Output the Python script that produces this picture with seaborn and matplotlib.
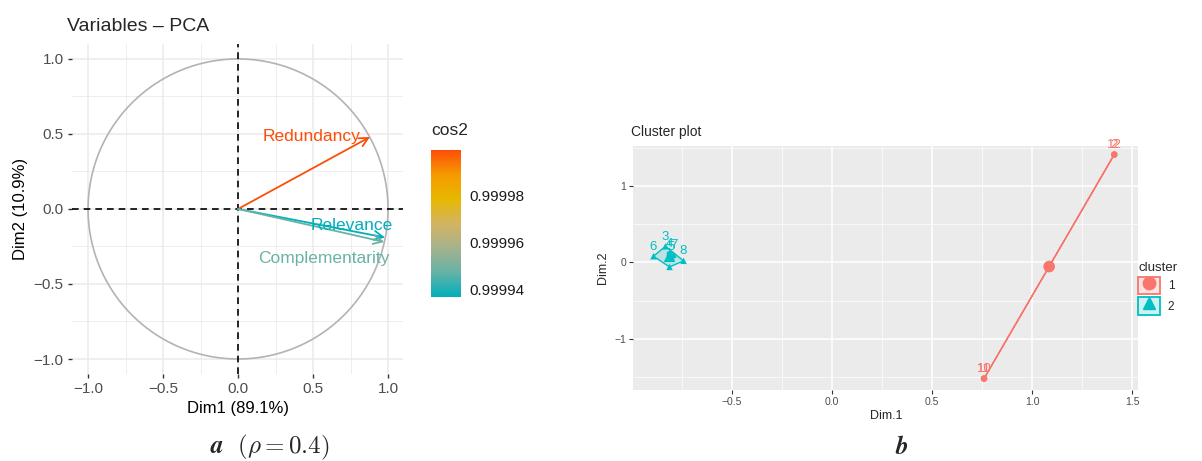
import numpy as np
import pandas as pd
import matplotlib
matplotlib.use("Agg")
import matplotlib.pyplot as plt
import seaborn as sns
from matplotlib.colors import LinearSegmentedColormap, Normalize
from matplotlib.cm import ScalarMappable
from matplotlib.lines import Line2D
from matplotlib.patches import Patch

# --- data: panel a (PCA variables) ---
var_names = ["Redundancy", "Relevance", "Complementarity"]
var_dim1 = [0.88, 0.98, 0.975]
var_dim2 = [0.48, -0.19, -0.22]
var_cos2 = [0.999999, 0.999937, 0.999948]
cos2_ticks = [0.99994, 0.99996, 0.99998]

# --- data: panel b (cluster plot) ---
obs_labels = ["2", "12", "10", "11", "3", "4", "5", "6", "7", "8", "9"]
obs_dim1 = [1.41, 1.41, 0.76, 0.76, -0.83, -0.81, -0.80, -0.89, -0.79, -0.74, -0.81]
obs_dim2 = [1.41, 1.41, -1.52, -1.52, 0.21, 0.12, 0.08, 0.08, 0.10, 0.02, -0.06]
obs_cluster = ["1", "1", "1", "1", "2", "2", "2", "2", "2", "2", "2"]

sns.set_theme(style="white")
plt.rcParams["font.family"] = ["Liberation Sans", "DejaVu Sans"]
plt.rcParams["mathtext.fontset"] = "cm"

fig = plt.figure(figsize=(12.02, 4.61), dpi=100)

# ================= panel a =================
ax1 = fig.add_axes([0.0599, 0.1887, 0.2754, 0.716])
# gradient teal -> yellow -> orange, stops roughly like a Lab blend
cmap = LinearSegmentedColormap.from_list(
    "fx", ["#00AFBB", "#66B2A6", "#A6B28C", "#D2B462", "#E7B800",
           "#F59A00", "#FC4E07"])
norm = Normalize(vmin=min(var_cos2), vmax=max(var_cos2))

t = np.linspace(0, 2 * np.pi, 400)
ax1.plot(np.cos(t), np.sin(t), color="#B3B3B3", lw=1.2, zorder=2)
ax1.axhline(0, color="black", ls=(0, (4, 3)), lw=1.2, zorder=3)
ax1.axvline(0, color="black", ls=(0, (4, 3)), lw=1.2, zorder=3)

label_pos = {"Redundancy": (0.49, 0.48), "Relevance": (0.76, -0.113),
             "Complementarity": (0.57, -0.33)}
for name, x, y, c in zip(var_names, var_dim1, var_dim2, var_cos2):
    col = cmap(norm(c))
    ax1.annotate("", xy=(x, y), xytext=(0, 0),
                 arrowprops=dict(arrowstyle="->", color=col, lw=1.3,
                                 shrinkA=0, shrinkB=0, mutation_scale=16),
                 zorder=4)
    lx, ly = label_pos[name]
    ax1.text(lx, ly, name, color=col, fontsize=12.5, ha="center", va="center", zorder=5)

ax1.set_xlim(-1.107, 1.1)
ax1.set_ylim(-1.1, 1.1)
ax1.set_xticks([-1.0, -0.5, 0.0, 0.5, 1.0])
ax1.set_yticks([-1.0, -0.5, 0.0, 0.5, 1.0])
ax1.set_xticks([-0.75, -0.25, 0.25, 0.75], minor=True)
ax1.set_yticks([-0.75, -0.25, 0.25, 0.75], minor=True)
ax1.grid(which="major", color="#EBEBEB", lw=1.1)
ax1.grid(which="minor", color="#EBEBEB", lw=0.6)
ax1.set_axisbelow(True)
for s in ax1.spines.values():
    s.set_visible(False)
ax1.tick_params(which="major", length=3, width=1, color="#333333", labelsize=11,
                labelcolor="#4D4D4D", pad=3, bottom=True, left=True)
ax1.tick_params(which="minor", length=0)
ax1.set_xlabel("Dim1 (89.1%)", fontsize=12, color="black", labelpad=3)
ax1.set_ylabel("Dim2 (10.9%)", fontsize=12, color="black", labelpad=4)
ax1.set_title("Variables – PCA", fontsize=14, loc="left", x=-0.015, pad=9)

cax = fig.add_axes([0.3586, 0.3557, 0.025, 0.319])
cb = fig.colorbar(ScalarMappable(norm=norm, cmap=cmap), cax=cax)
cb.outline.set_visible(False)
cb.set_ticks(cos2_ticks)
cb.ax.set_yticklabels([f"{v:.5f}" for v in cos2_ticks])
cb.ax.tick_params(direction="in", color="white", length=4, width=1, left=True,
                  right=True, labelsize=11, labelcolor="#1A1A1A", pad=6)
fig.text(0.3586, 0.7, "cos2", fontsize=12.5, ha="left", va="bottom")

# ================= panel b =================
ax2 = fig.add_axes([0.527, 0.154, 0.420, 0.529])
ax2.set_facecolor("#EBEBEB")
df = pd.DataFrame({"label": obs_labels, "Dim.1": obs_dim1, "Dim.2": obs_dim2,
                   "cluster": obs_cluster})
palette = {"1": "#F8766D", "2": "#00BFC4"}
markers = {"1": "o", "2": "^"}


def hull(pts):
    pts = sorted(set(pts))
    if len(pts) < 3:
        return pts
    def cross(o, a, b):
        return (a[0] - o[0]) * (b[1] - o[1]) - (a[1] - o[1]) * (b[0] - o[0])
    lower, upper = [], []
    for p in pts:
        while len(lower) >= 2 and cross(lower[-2], lower[-1], p) <= 0:
            lower.pop()
        lower.append(p)
    for p in reversed(pts):
        while len(upper) >= 2 and cross(upper[-2], upper[-1], p) <= 0:
            upper.pop()
        upper.append(p)
    return lower[:-1] + upper[:-1]


for cl, g in df.groupby("cluster"):
    h = hull(list(zip(g["Dim.1"], g["Dim.2"])))
    hx = [p[0] for p in h] + [h[0][0]]
    hy = [p[1] for p in h] + [h[0][1]]
    ax2.fill(hx, hy, color=palette[cl], alpha=0.2, lw=0, zorder=2)
    ax2.plot(hx, hy, color=palette[cl], lw=1.0, zorder=3)

sns.scatterplot(data=df, x="Dim.1", y="Dim.2", hue="cluster", style="cluster",
                palette=palette, markers=markers, s=22, linewidth=0,
                legend=False, ax=ax2, zorder=4)
cent = df.groupby("cluster")[["Dim.1", "Dim.2"]].mean().reset_index()
sns.scatterplot(data=cent, x="Dim.1", y="Dim.2", hue="cluster", style="cluster",
                palette=palette, markers=markers, s=70, linewidth=0,
                legend=False, ax=ax2, zorder=5)

for _, r in df.iterrows():
    tx = ax2.annotate(r["label"], xy=(r["Dim.1"], r["Dim.2"]), xytext=(0, 2.5),
                      textcoords="offset points", ha="center", va="bottom",
                      fontsize=9.5, color=palette[r["cluster"]], zorder=6)
    tx.set_clip_on(True)

ax2.set_xlim(-0.99, 1.53)
ax2.set_ylim(-1.67, 1.52)
ax2.set_xticks([-0.5, 0.0, 0.5, 1.0, 1.5])
ax2.set_yticks([-1, 0, 1])
ax2.set_xticks([-0.75, -0.25, 0.25, 0.75, 1.25], minor=True)
ax2.set_yticks([-1.5, -0.5, 0.5, 1.5], minor=True)
ax2.grid(which="major", color="white", lw=1.1)
ax2.grid(which="minor", color="white", lw=0.5)
ax2.set_axisbelow(True)
for s in ax2.spines.values():
    s.set_visible(False)
ax2.tick_params(which="major", length=3, width=0.8, color="#333333", labelsize=7.5,
                labelcolor="#4D4D4D", pad=2, bottom=True, left=True)
ax2.tick_params(which="minor", length=0)
ax2.set_xlabel("Dim.1", fontsize=9, labelpad=2)
ax2.set_ylabel("Dim.2", fontsize=9, labelpad=4)
ax2.set_title("Cluster plot", fontsize=10, loc="left", x=-0.005, pad=7)

handles = []
for cl in ["1", "2"]:
    handles.append((Patch(facecolor=matplotlib.colors.to_rgba(palette[cl], 0.2),
                          edgecolor=palette[cl], lw=1.3),
                    Line2D([], [], marker=markers[cl], color=palette[cl], ls="",
                           markersize=9)))
leg = fig.legend(handles, ["1", "2"], title="cluster", loc="center left",
                 bbox_to_anchor=(0.947, 0.375), frameon=False, fontsize=8.5,
                 title_fontsize=9.5, handlelength=1.8, handleheight=1.9,
                 labelspacing=0.25, handletextpad=0.7, borderaxespad=0,
                 borderpad=0)
leg._legend_box.align = "left"

# captions
fig.text(0.2246, 0.03, r"$\boldsymbol{a}\ \ (\rho = 0.4)$", fontsize=18,
         ha="center", va="center")
fig.text(0.750, 0.03, r"$\boldsymbol{b}$", fontsize=18, ha="center", va="center")

fig.savefig("out.png", dpi=100)
